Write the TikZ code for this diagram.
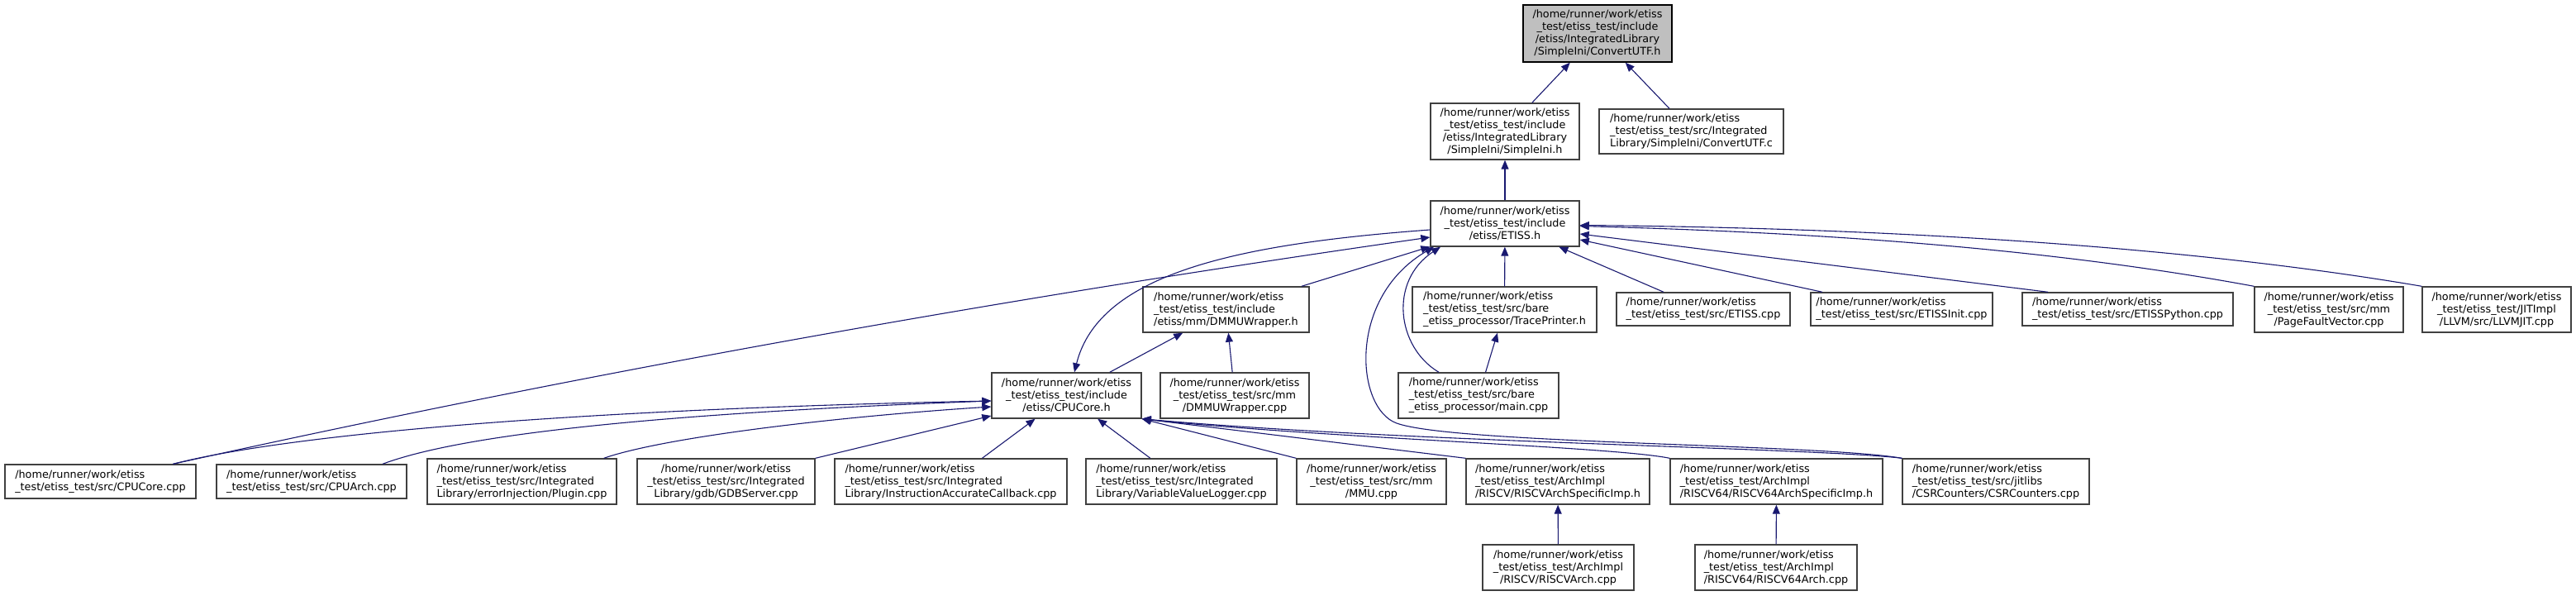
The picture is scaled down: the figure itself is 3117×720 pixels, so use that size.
\documentclass[tikz,border=0pt]{standalone}
\usepackage{fontspec}
\setmainfont{DejaVu Sans}
\usepackage{xcolor}
\usepackage{tikz}
\usetikzlibrary{arrows.meta, positioning}

\definecolor{edgeblue}{RGB}{25,25,112}
\definecolor{rootgray}{RGB}{191,191,191}
\newcommand{\filefont}{\fontsize{12.8}{15}\selectfont}

\begin{document}
\begin{tikzpicture}[x=1pt, y=-1pt,
    file/.style={draw=black!75, line width=1.4pt, fill=white, inner sep=0pt, font=\filefont, align=left},
    dep/.style={draw=edgeblue, line width=1.1pt, -{Triangle[length=11pt, width=9pt]}}]
  \useasboundingbox (0,0) rectangle (3117,720);

  % top levels
  \node[file, fill=rootgray, draw=black, align=center, minimum width=180pt, minimum height=69pt] (cutfh) at (1933,40.5) {/home/runner/work/etiss\\\_test/etiss\_test/include\\/etiss/IntegratedLibrary\\/SimpleIni/ConvertUTF.h};
  \node[file, align=center, minimum width=180pt, minimum height=68pt] (simpleini) at (1821,159) {/home/runner/work/etiss\\\_test/etiss\_test/include\\/etiss/IntegratedLibrary\\/SimpleIni/SimpleIni.h};
  \node[file, minimum width=223pt, minimum height=54pt] (cutfc) at (2046.5,159) {/home/runner/work/etiss\\\_test/etiss\_test/src/Integrated\\Library/SimpleIni/ConvertUTF.c};
  \node[file, align=center, minimum width=180pt, minimum height=55pt] (etissh) at (1821,270.5) {/home/runner/work/etiss\\\_test/etiss\_test/include\\/etiss/ETISS.h};

  % row under ETISS.h
  \node[file, minimum width=201pt, minimum height=55pt] (dmmuh) at (1483.5,374.5) {/home/runner/work/etiss\\\_test/etiss\_test/include\\/etiss/mm/DMMUWrapper.h};
  \node[file, minimum width=223pt, minimum height=55pt] (traceh) at (1820.5,374.5) {/home/runner/work/etiss\\\_test/etiss\_test/src/bare\\\_etiss\_processor/TracePrinter.h};
  \node[file, minimum width=210pt, minimum height=40pt] (etisscpp) at (2061,374) {/home/runner/work/etiss\\\_test/etiss\_test/src/ETISS.cpp};
  \node[file, minimum width=220pt, minimum height=40pt] (initcpp) at (2301,374) {/home/runner/work/etiss\\\_test/etiss\_test/src/ETISSInit.cpp};
  \node[file, minimum width=255pt, minimum height=40pt] (pycpp) at (2574.5,374) {/home/runner/work/etiss\\\_test/etiss\_test/src/ETISSPython.cpp};
  \node[file, align=center, minimum width=180pt, minimum height=55pt] (pfv) at (2818,374.5) {/home/runner/work/etiss\\\_test/etiss\_test/src/mm\\/PageFaultVector.cpp};
  \node[file, align=center, minimum width=180pt, minimum height=55pt] (llvm) at (3021,374.5) {/home/runner/work/etiss\\\_test/etiss\_test/JITImpl\\/LLVM/src/LLVMJIT.cpp};

  \node[file, align=center, minimum width=181pt, minimum height=55pt] (cpucoreh) at (1290.5,478.5) {/home/runner/work/etiss\\\_test/etiss\_test/include\\/etiss/CPUCore.h};
  \node[file, align=center, minimum width=180pt, minimum height=55pt] (dmmucpp) at (1494,478.5) {/home/runner/work/etiss\\\_test/etiss\_test/src/mm\\/DMMUWrapper.cpp};
  \node[file, minimum width=194pt, minimum height=55pt] (maincpp) at (1789,478.5) {/home/runner/work/etiss\\\_test/etiss\_test/src/bare\\\_etiss\_processor/main.cpp};

  % users of CPUCore.h
  \node[file, minimum width=231pt, minimum height=41pt] (cpucorecpp) at (121.5,582.5) {/home/runner/work/etiss\\\_test/etiss\_test/src/CPUCore.cpp};
  \node[file, minimum width=230pt, minimum height=41pt] (cpuarch) at (377,582.5) {/home/runner/work/etiss\\\_test/etiss\_test/src/CPUArch.cpp};
  \node[file, minimum width=229pt, minimum height=55pt] (plugin) at (631.5,582.5) {/home/runner/work/etiss\\\_test/etiss\_test/src/Integrated\\Library/errorInjection/Plugin.cpp};
  \node[file, align=center, minimum width=215pt, minimum height=55pt] (gdb) at (878.5,582.5) {/home/runner/work/etiss\\\_test/etiss\_test/src/Integrated\\Library/gdb/GDBServer.cpp};
  \node[file, minimum width=281pt, minimum height=55pt] (iac) at (1150.5,582.5) {/home/runner/work/etiss\\\_test/etiss\_test/src/Integrated\\Library/InstructionAccurateCallback.cpp};
  \node[file, minimum width=231pt, minimum height=55pt] (vvl) at (1429.5,582.5) {/home/runner/work/etiss\\\_test/etiss\_test/src/Integrated\\Library/VariableValueLogger.cpp};
  \node[file, align=center, minimum width=181pt, minimum height=55pt] (mmu) at (1659.5,582.5) {/home/runner/work/etiss\\\_test/etiss\_test/src/mm\\/MMU.cpp};
  \node[file, minimum width=222pt, minimum height=55pt] (rvimp) at (1885,582.5) {/home/runner/work/etiss\\\_test/etiss\_test/ArchImpl\\/RISCV/RISCVArchSpecificImp.h};
  \node[file, minimum width=257pt, minimum height=55pt] (rv64imp) at (2149.5,582.5) {/home/runner/work/etiss\\\_test/etiss\_test/ArchImpl\\/RISCV64/RISCV64ArchSpecificImp.h};
  \node[file, minimum width=226pt, minimum height=55pt] (csr) at (2415,582.5) {/home/runner/work/etiss\\\_test/etiss\_test/src/jitlibs\\/CSRCounters/CSRCounters.cpp};

  \node[file, align=center, minimum width=183pt, minimum height=55pt] (rvarch) at (1885.5,686.5) {/home/runner/work/etiss\\\_test/etiss\_test/ArchImpl\\/RISCV/RISCVArch.cpp};
  \node[file, minimum width=196pt, minimum height=55pt] (rv64arch) at (2149,686.5) {/home/runner/work/etiss\\\_test/etiss\_test/ArchImpl\\/RISCV64/RISCV64Arch.cpp};

  % edges, arrow at the included file
  \draw[dep] (simpleini) -- (cutfh);
  \draw[dep] (cutfc) -- (cutfh);
  \draw[dep] (etissh) -- (simpleini);
  \draw[dep] (traceh) -- (etissh);
  \draw[dep] (etisscpp) -- (etissh);
  \draw[dep] (initcpp) -- (etissh);
  \draw[dep] ([xshift=-96.5pt]pycpp.north) -- ([yshift=-12.5pt]etissh.east);
  \draw[dep] (pfv.north west) .. controls (2450,295) and (2150,280) .. ([yshift=-3pt]etissh.east);
  \draw[dep] (llvm.north west) .. controls (2600,290) and (2200,275) .. ([yshift=-2pt]etissh.east);
  \draw[dep] (dmmuh) -- (etissh);
  \draw[dep] ([xshift=88pt]cpucorecpp.north) .. controls (712,450) and (1220,360) .. ([yshift=-16.5pt]etissh.west);
  \draw[dep] ([yshift=-7.5pt]etissh.west) .. controls (1500,295) and (1330,330) .. ([xshift=9.5pt]cpucoreh.north);
  \draw[dep] ([xshift=-48pt]maincpp.north) .. controls (1690,420) and (1680,340) .. ([xshift=-78pt]etissh.south);
  \draw[dep] (csr.north west) .. controls (2200,537) and (1760,537) .. (1690,512)
    .. controls (1640,494) and (1630,360) .. ([xshift=-86pt]etissh.south);

  \draw[dep] (cpucoreh) -- (dmmuh);
  \draw[dep] (dmmucpp) -- (dmmuh);
  \draw[dep] (maincpp) -- (traceh);

  \draw[dep] ([xshift=88pt]cpucorecpp.north) .. controls (350,525) and (700,495) .. ([yshift=-6.5pt]cpucoreh.west);
  \draw[dep] ([xshift=86pt]cpuarch.north) .. controls (560,525) and (800,500) .. ([yshift=-6.5pt]cpucoreh.west);
  \draw[dep] ([xshift=-16pt]plugin.north east) .. controls (800,530) and (1000,505) .. ([yshift=-13.5pt]cpucoreh.west);
  \draw[dep] (gdb.north east) -- ([yshift=-24.5pt]cpucoreh.west);
  \draw[dep] (iac) -- (cpucoreh);
  \draw[dep] (vvl) -- (cpucoreh);
  \draw[dep] (mmu.north west) -- (cpucoreh.south east);
  \draw[dep] (rvimp.north west) -- (cpucoreh.south east);
  \draw[dep] (rv64imp.north west) .. controls (1950,540) and (1600,530) .. (cpucoreh.south east);
  \draw[dep] (csr.north west) .. controls (2200,542) and (1700,535) .. (cpucoreh.south east);

  \draw[dep] (rvarch) -- (rvimp);
  \draw[dep] (rv64arch) -- (rv64imp);
\end{tikzpicture}
\end{document}
